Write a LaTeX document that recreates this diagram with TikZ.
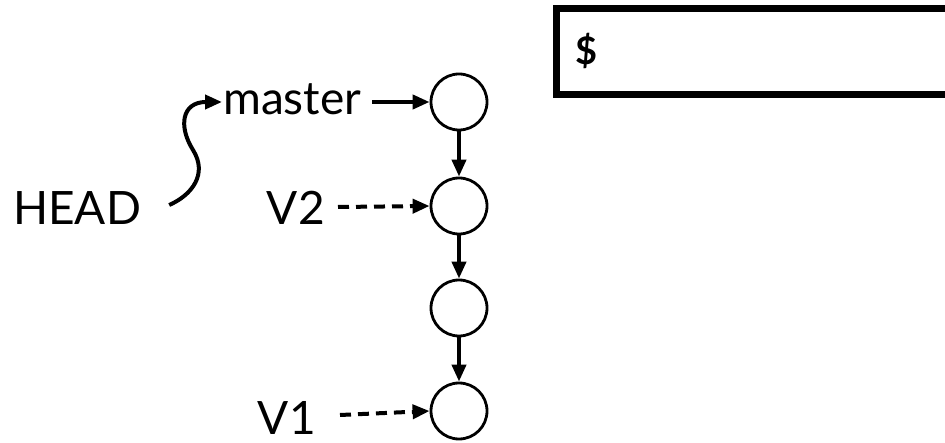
\documentclass[tikz,border=0pt]{standalone}
\usepackage{fontspec}
\setmainfont{Lato}
\usetikzlibrary{arrows.meta,positioning}

\begin{document}
\begin{tikzpicture}[
  x=1pt, y=-1pt, >={Triangle[length=17pt, width=14pt]},
  lbl/.style={inner sep=0pt, font=\fontsize{46}{46}\selectfont},
  commit/.style={draw, circle, line width=2.8pt, minimum size=56pt, inner sep=0pt},
  arr/.style={->, line width=4pt},
  darr/.style={->, line width=4pt, dash pattern=on 11pt off 7pt},
  shell/.style={draw, line width=7pt, minimum width=420pt, minimum height=86pt, inner sep=0pt}]
  \useasboundingbox (0,0) rectangle (945,443);
  % commits
  \node[commit] (c1) at (459,102) {};
  \node[commit] (c2) at (459,206) {};
  \node[commit] (c3) at (459,308) {};
  \node[commit] (c4) at (459,411) {};
  % refs
  \node[lbl, anchor=base west] (master) at (223,115) {master};
  \node[lbl, anchor=base west] (head)   at (13,225)  {HEAD};
  \node[lbl, anchor=base east] (vtwo)   at (325,225) {V2};
  \node[lbl, anchor=base east] (vone)   at (316,434) {V1};
  % terminal
  \node[shell] (term) at (766,52) {};
  \node[inner sep=0pt, font=\fontsize{38}{38}\selectfont\bfseries, anchor=west] (prompt) at (575,51) {\$};
  \foreach \a/\b in {c1/c2,c2/c3,c3/c4} {\draw[arr] (\a) -- (\b);}
  \draw[arr] ([xshift=11pt, yshift=13pt]master.base east) -- (c1.west);
  \draw[darr] ([xshift=13pt, yshift=18pt]vtwo.base east) -- (c2.west);
  \draw[darr] ([xshift=24pt, yshift=19pt]vone.base east) -- (c4.west);
  \draw[arr] ([xshift=28pt, yshift=20pt]head.base east) .. controls (192,195) and (208,174) .. (193,150)
                  .. controls (178,126) and (182,102) .. ([xshift=-1pt, yshift=13pt]master.base west);
\end{tikzpicture}
\end{document}
